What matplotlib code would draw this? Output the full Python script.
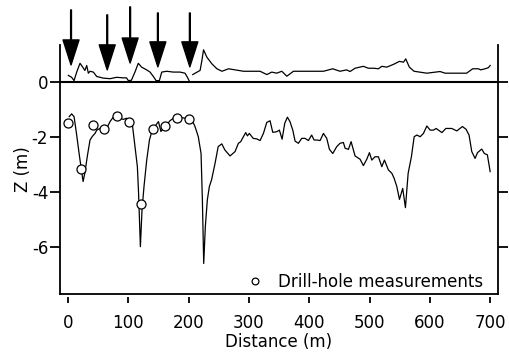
import numpy as np
import matplotlib
matplotlib.use("Agg")
import matplotlib.pyplot as plt

plt.rcParams['font.family'] = ['DejaVu Sans']

# Bed profile Z (m) vs distance (m)
bed_d = [2, 6, 10, 14, 19, 22.6, 25, 28, 32, 36.5, 41, 44.8, 47.6, 53, 58.6, 64, 69.7, 75, 80.7, 86,
         91.7, 97, 104, 107, 111, 115, 117, 120, 122.7, 126, 130.5, 135, 139, 144, 150, 154, 158,
         163.7, 169, 174.7, 185.7, 194, 205, 210.6, 216, 220.6, 222.8, 225, 227.7, 231, 234.4, 238,
         243.8, 249, 255, 260, 268.7, 277, 282.5, 286.4, 290.8, 294.7, 297.4, 300.7, 307, 313, 318.5,
         324, 329.6, 335, 339.5, 346, 350.5, 355, 359.4, 363.8, 368, 372.7, 376.5, 382, 387.6, 393,
         398.6, 404, 408, 412.5, 418, 423.5, 429, 433.5, 439, 445.6, 451, 456.6, 459.5, 465, 469.4,
         476, 484.3, 489.8, 495.4, 499.8, 503.7, 509, 514.7, 520.3, 524.7, 531.3, 537, 540.7, 545.2,
         549.6, 555, 559.5, 564, 569.4, 574, 578.4, 584, 589.4, 595, 600.5, 606, 610.4, 620, 626.5,
         636.4, 644.7, 654, 660, 665, 669.5, 675, 679, 686, 690.4, 695.4, 700]
bed_z = [-1.26, -1.16, -1.26, -1.87, -2.7, -3.26, -3.62, -3.3, -2.7, -2.11, -1.96, -1.87, -1.75, -1.69,
         -1.72, -1.69, -1.44, -1.28, -1.24, -1.32, -1.36, -1.32, -1.41, -1.6, -2.35, -3.08, -4.05,
         -5.99, -4.65, -3.8, -2.84, -2.11, -1.8, -1.62, -1.44, -1.8, -1.69, -1.56, -1.41, -1.32,
         -1.28, -1.32, -1.36, -1.62, -1.99, -2.6, -4.29, -6.6, -5.26, -4.29, -3.8, -3.56, -2.96,
         -2.35, -2.25, -2.47, -2.69, -2.53, -2.23, -2.17, -1.99, -1.84, -1.96, -1.87, -2.05, -2.07,
         -2.13, -1.87, -1.47, -1.41, -1.83, -1.81, -1.75, -2.08, -1.50, -1.28, -1.44, -1.75, -2.15,
         -2.23, -2.05, -2.05, -2.13, -1.93, -2.11, -2.11, -2.13, -1.87, -2.05, -2.45, -2.6, -2.35,
         -2.23, -2.2, -2.41, -2.45, -2.17, -2.69, -2.81, -3.04, -2.81, -2.57, -2.84, -2.72, -2.72,
         -3.08, -2.84, -3.2, -3.32, -3.50, -3.8, -4.27, -3.87, -4.57, -3.32, -2.72, -1.99, -1.93,
         -1.99, -1.87, -1.6, -1.75, -1.75, -1.69, -1.84, -1.69, -1.69, -1.78, -1.62, -1.72, -1.93,
         -2.53, -2.78, -2.57, -2.44, -2.6, -2.65, -3.26]

# Surface profile (m) above zero; NaN marks gap
top_d = [0.5, 6, 10, 14.4, 19.9, 24.3, 28, 31, 33.7, 36.5, 42, 47.6, 58.6, 69.7, 80.7, 91.7, 97, 100,
         105, 111, 116.5, 122, 130.5, 136, 141.5, 146, 151.5, 155.4, 163.7, 174.7, 185.8, 194, 198,
         200.7, 203.5, 206.8, 219, 222, 224.7, 230.3, 238.6, 246.9, 255.2, 266.2, 277.3, 291, 318.5,
         329.6, 337.9, 346, 354.5, 362.8, 373.8, 390.4, 423.5, 439, 451, 462, 467.6, 476, 489.8, 498,
         507.5, 514.7, 520.3, 528.5, 539.6, 549.6, 556.3, 560, 566, 573.8, 595, 617, 625.3, 661,
         671, 680.5, 684.4, 691.5, 697, 700]
top_z = [0.24, 0.17, 0.05, 0.36, 0.68, 0.54, 0.42, 0.6, 0.32, 0.39, 0.36, 0.2, 0.14, 0.12, 0.17, 0.15,
         0.15, 0.05, 0.06, 0.36, 0.68, 0.54, 0.44, 0.36, 0.2, 0.05, 0.05, 0.36, 0.39, 0.36, 0.36, 0.32,
         0.17, 0.05, np.nan, 0.27, 0.42, 0.78, 1.17, 0.9, 0.66, 0.48, 0.39, 0.48, 0.44, 0.39, 0.39,
         0.27, 0.36, 0.32, 0.39, 0.21, 0.39, 0.39, 0.39, 0.48, 0.39, 0.44, 0.38, 0.5, 0.57, 0.5, 0.5,
         0.48, 0.57, 0.54, 0.64, 0.75, 0.72, 0.84, 0.54, 0.39, 0.32, 0.38, 0.32, 0.32, 0.48, 0.48,
         0.44, 0.48, 0.52, 0.6]

# Drill-hole measurements
drill_d = [0.5, 21.6, 41, 60.3, 80.7, 101.7, 121, 141, 161.4, 180.3, 200.7]
drill_z = [-1.48, -3.18, -1.58, -1.71, -1.24, -1.47, -4.42, -1.70, -1.61, -1.30, -1.33]

# Arrows (distance, tip z, tail z)
arrow_d = [5, 65, 103, 149, 202]
arrow_tip = [0.62, 0.44, 0.69, 0.55, 0.55]
arrow_tail = [2.62, 2.44, 2.73, 2.51, 2.51]

x_ticks = [0, 100, 200, 300, 400, 500, 600, 700]
y_ticks = [0, -2, -4, -6]

fig = plt.figure(figsize=(5.1, 3.52), dpi=100)
ax = fig.add_axes([60/510, 1-294/352, 438/510, 249/352])

ax.axhline(0, color='black', lw=1.5, zorder=3)
ax.plot(top_d, top_z, color='black', lw=0.9)
ax.plot(bed_d, bed_z, color='black', lw=0.9)
ax.plot(drill_d, drill_z, 'o', ms=6.5, mfc='white', mec='black', mew=0.9, ls='none',
        label='Drill-hole measurements', zorder=4)

for d, t0, t1 in zip(arrow_d, arrow_tip, arrow_tail):
    ax.annotate('', xy=(d, t0), xytext=(d, t1), annotation_clip=False,
                arrowprops=dict(facecolor='black', edgecolor='black', width=0.6,
                                headwidth=11.5, headlength=18, shrink=0))

ax.set_xlim(-13.3, 713)
ax.set_ylim(-7.71, 1.345)

ax.spines['top'].set_visible(False)
ax.spines['bottom'].set_visible(False)
ax.spines['bottom'].set_position(('outward', 2.5))
for s in ['left', 'right']:
    ax.spines[s].set_linewidth(1.3)
ax.plot([0, 1], [0, 0], transform=ax.transAxes, color='black', lw=1.3, clip_on=False,
        solid_capstyle='projecting')

ax.set_xticks(x_ticks)
ax.set_yticks(y_ticks)
ax.set_yticklabels([str(v) for v in y_ticks])
ax.tick_params(axis='x', direction='out', length=4.5, width=1.3, pad=7.5, labelsize=12)
ax.tick_params(axis='y', direction='out', length=7, width=1.3, pad=1.5, labelsize=12,
               right=True, labelright=False)

ax.set_xlabel('Distance (m)', fontsize=12, labelpad=0.5)
ax.set_ylabel('Z (m)', fontsize=12, labelpad=0)

ax.legend(loc='lower right', bbox_to_anchor=(0.981, -0.015), frameon=False, fontsize=12,
          handletextpad=0.4, borderaxespad=0, markerscale=0.75)

fig.savefig('out.png', dpi=100)
